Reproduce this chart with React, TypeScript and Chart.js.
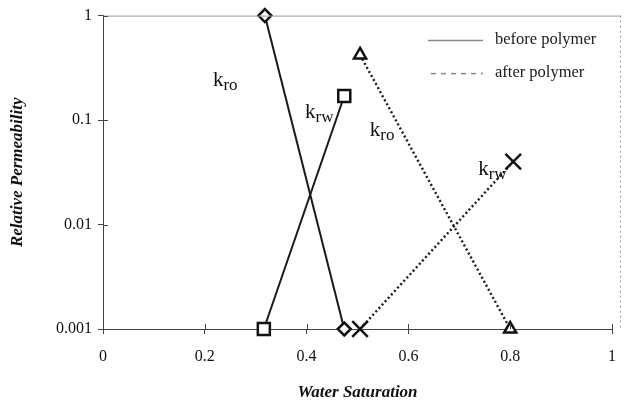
import React, { useEffect, useRef } from "react";
import { Chart, registerables } from "chart.js";

Chart.register(...registerables);

// ---- data ----
const beforeKroX = [0.318, 0.474];
const beforeKroY = [1, 0.001];
const beforeKrwX = [0.316, 0.474];
const beforeKrwY = [0.001, 0.17];
const afterKroX = [0.505, 0.8];
const afterKroY = [0.42, 0.001];
const afterKrwX = [0.505, 0.806];
const afterKrwY = [0.001, 0.04];

const yTickValues = [0.001, 0.01, 0.1, 1];
const xTickValues = [0, 0.2, 0.4, 0.6, 0.8, 1];

const curveLabelMain = ["k", "k", "k", "k"];
const curveLabelSub = ["ro", "rw", "ro", "rw"];
const curveLabelX = [0.216, 0.397, 0.524, 0.737];
const curveLabelY = [0.21, 0.104, 0.07, 0.03];

const legendLabels = ["before polymer", "after polymer"];

const SERIF = "'Liberation Serif', 'Times New Roman', serif";

function pts(xs: number[], ys: number[]) {
  return xs.map((x, i) => ({ x, y: ys[i] }));
}

const overlayPlugin = {
  id: "overlay",
  afterDraw(chart: any) {
    const { ctx, chartArea, scales } = chart;
    const xs = scales.x;
    const ys = scales.y;
    ctx.save();
    // top and right frame
    ctx.strokeStyle = "#9a9a9a";
    ctx.lineWidth = 1;
    ctx.beginPath();
    ctx.moveTo(chartArea.left, chartArea.top + 0.5);
    ctx.lineTo(chartArea.right + 8, chartArea.top + 0.5);
    ctx.stroke();
    ctx.setLineDash([2, 3]);
    ctx.beginPath();
    ctx.moveTo(chartArea.right + 8.5, chartArea.top);
    ctx.lineTo(chartArea.right + 8.5, chartArea.bottom);
    ctx.stroke();
    ctx.setLineDash([]);
    // inward ticks
    ctx.strokeStyle = "#444";
    xTickValues.forEach((v) => {
      const px = Math.round(xs.getPixelForValue(v)) + 0.5;
      ctx.beginPath();
      ctx.moveTo(px, chartArea.bottom);
      ctx.lineTo(px, chartArea.bottom - 5);
      ctx.stroke();
    });
    yTickValues.forEach((v) => {
      const py = Math.round(ys.getPixelForValue(v)) + 0.5;
      ctx.beginPath();
      ctx.moveTo(chartArea.left, py);
      ctx.lineTo(chartArea.left + 5, py);
      ctx.stroke();
    });
    // curve labels
    ctx.fillStyle = "#111";
    ctx.textAlign = "left";
    ctx.textBaseline = "alphabetic";
    curveLabelMain.forEach((m, i) => {
      const px = xs.getPixelForValue(curveLabelX[i]);
      const py = ys.getPixelForValue(curveLabelY[i]);
      ctx.font = `21px ${SERIF}`;
      ctx.fillText(m, px, py);
      const w = ctx.measureText(m).width;
      ctx.font = `17px ${SERIF}`;
      ctx.fillText(curveLabelSub[i], px + w, py + 4);
    });
    // legend
    const lx0 = chartArea.left + 325;
    const lx1 = chartArea.left + 380;
    const tx = chartArea.left + 392;
    const ly = [chartArea.top + 25, chartArea.top + 58];
    ctx.strokeStyle = "#8a8a8a";
    ctx.lineWidth = 1.5;
    ctx.beginPath();
    ctx.moveTo(lx0, ly[0]);
    ctx.lineTo(lx1, ly[0]);
    ctx.stroke();
    ctx.setLineDash([5, 5]);
    ctx.beginPath();
    ctx.moveTo(lx0 + 3, ly[1]);
    ctx.lineTo(lx1, ly[1]);
    ctx.stroke();
    ctx.setLineDash([]);
    ctx.font = `16.5px ${SERIF}`;
    ctx.fillStyle = "#1a1a1a";
    ctx.textBaseline = "middle";
    ctx.fillText(legendLabels[0], tx, ly[0] - 1);
    ctx.fillText(legendLabels[1], tx, ly[1] - 1);
    ctx.restore();
  },
};

export default function App() {
  const ref = useRef<HTMLCanvasElement | null>(null);
  useEffect(() => {
    if (!ref.current) return;
    const solid = {
      borderColor: "#1a1a1a",
      borderWidth: 2,
      pointBorderColor: "#111",
      pointBackgroundColor: "#fff",
      pointBorderWidth: 2.5,
      showLine: true,
      clip: false as any,
    };
    const dotted = {
      ...solid,
      borderDash: [2, 2.6],
      borderWidth: 2.4,
    };
    const chart = new Chart(ref.current, {
      type: "scatter",
      data: {
        datasets: [
          { ...solid, data: pts(beforeKroX, beforeKroY), pointStyle: "rectRot", pointRadius: 6.5 },
          { ...solid, data: pts(beforeKrwX, beforeKrwY), pointStyle: "rect", pointRadius: 8.5 },
          { ...dotted, data: pts(afterKroX, afterKroY), pointStyle: "triangle", pointRadius: 7 },
          { ...dotted, data: pts(afterKrwX, afterKrwY), pointStyle: "crossRot", pointRadius: 11 },
        ] as any,
      },
      options: {
        responsive: false,
        animation: false,
        layout: { padding: { left: 0, top: 14, right: 9, bottom: 0 } },
        plugins: { legend: { display: false }, tooltip: { enabled: false } },
        scales: {
          x: {
            type: "linear",
            min: 0,
            max: 1,
            afterBuildTicks: (s: any) => {
              s.ticks = xTickValues.map((v) => ({ value: v }));
            },
            afterFit: (s: any) => {
              s.height = 78;
            },
            ticks: {
              color: "#111",
              font: { family: SERIF, size: 16 },
              padding: 13,
              maxRotation: 0,
              callback: (v: any) => String(Math.round(Number(v) * 10) / 10),
            },
            grid: { drawOnChartArea: false, drawTicks: true, tickLength: 5, color: "#444" },
            border: { color: "#444", width: 1 },
            title: {
              display: true,
              text: "Water Saturation",
              color: "#111",
              font: { family: SERIF, size: 17, style: "italic", weight: "bold" },
              padding: { top: 0, bottom: 4 },
            },
          },
          y: {
            type: "logarithmic",
            min: 0.001,
            max: 1,
            afterBuildTicks: (s: any) => {
              s.ticks = yTickValues.map((v) => ({ value: v }));
            },
            afterFit: (s: any) => {
              s.width = 103;
            },
            ticks: {
              color: "#111",
              font: { family: SERIF, size: 16 },
              padding: 6,
              callback: (v: any) => String(v),
            },
            grid: { drawOnChartArea: false, drawTicks: true, tickLength: 5, color: "#444" },
            border: { color: "#444", width: 1 },
            title: {
              display: true,
              text: "Relative Permeability",
              color: "#111",
              font: { family: SERIF, size: 17, style: "italic", weight: "bold" },
              padding: { top: 7, bottom: 0 },
            },
          },
        },
      },
      plugins: [overlayPlugin],
    });
    return () => chart.destroy();
  }, []);
  return (
    <div style={{ position: "fixed", left: 0, top: 0, width: 629, height: 407, overflow: "hidden", background: "#fff" }}>
      <canvas ref={ref} width={629} height={407} style={{ width: 629, height: 407, display: "block" }} />
    </div>
  );
}
